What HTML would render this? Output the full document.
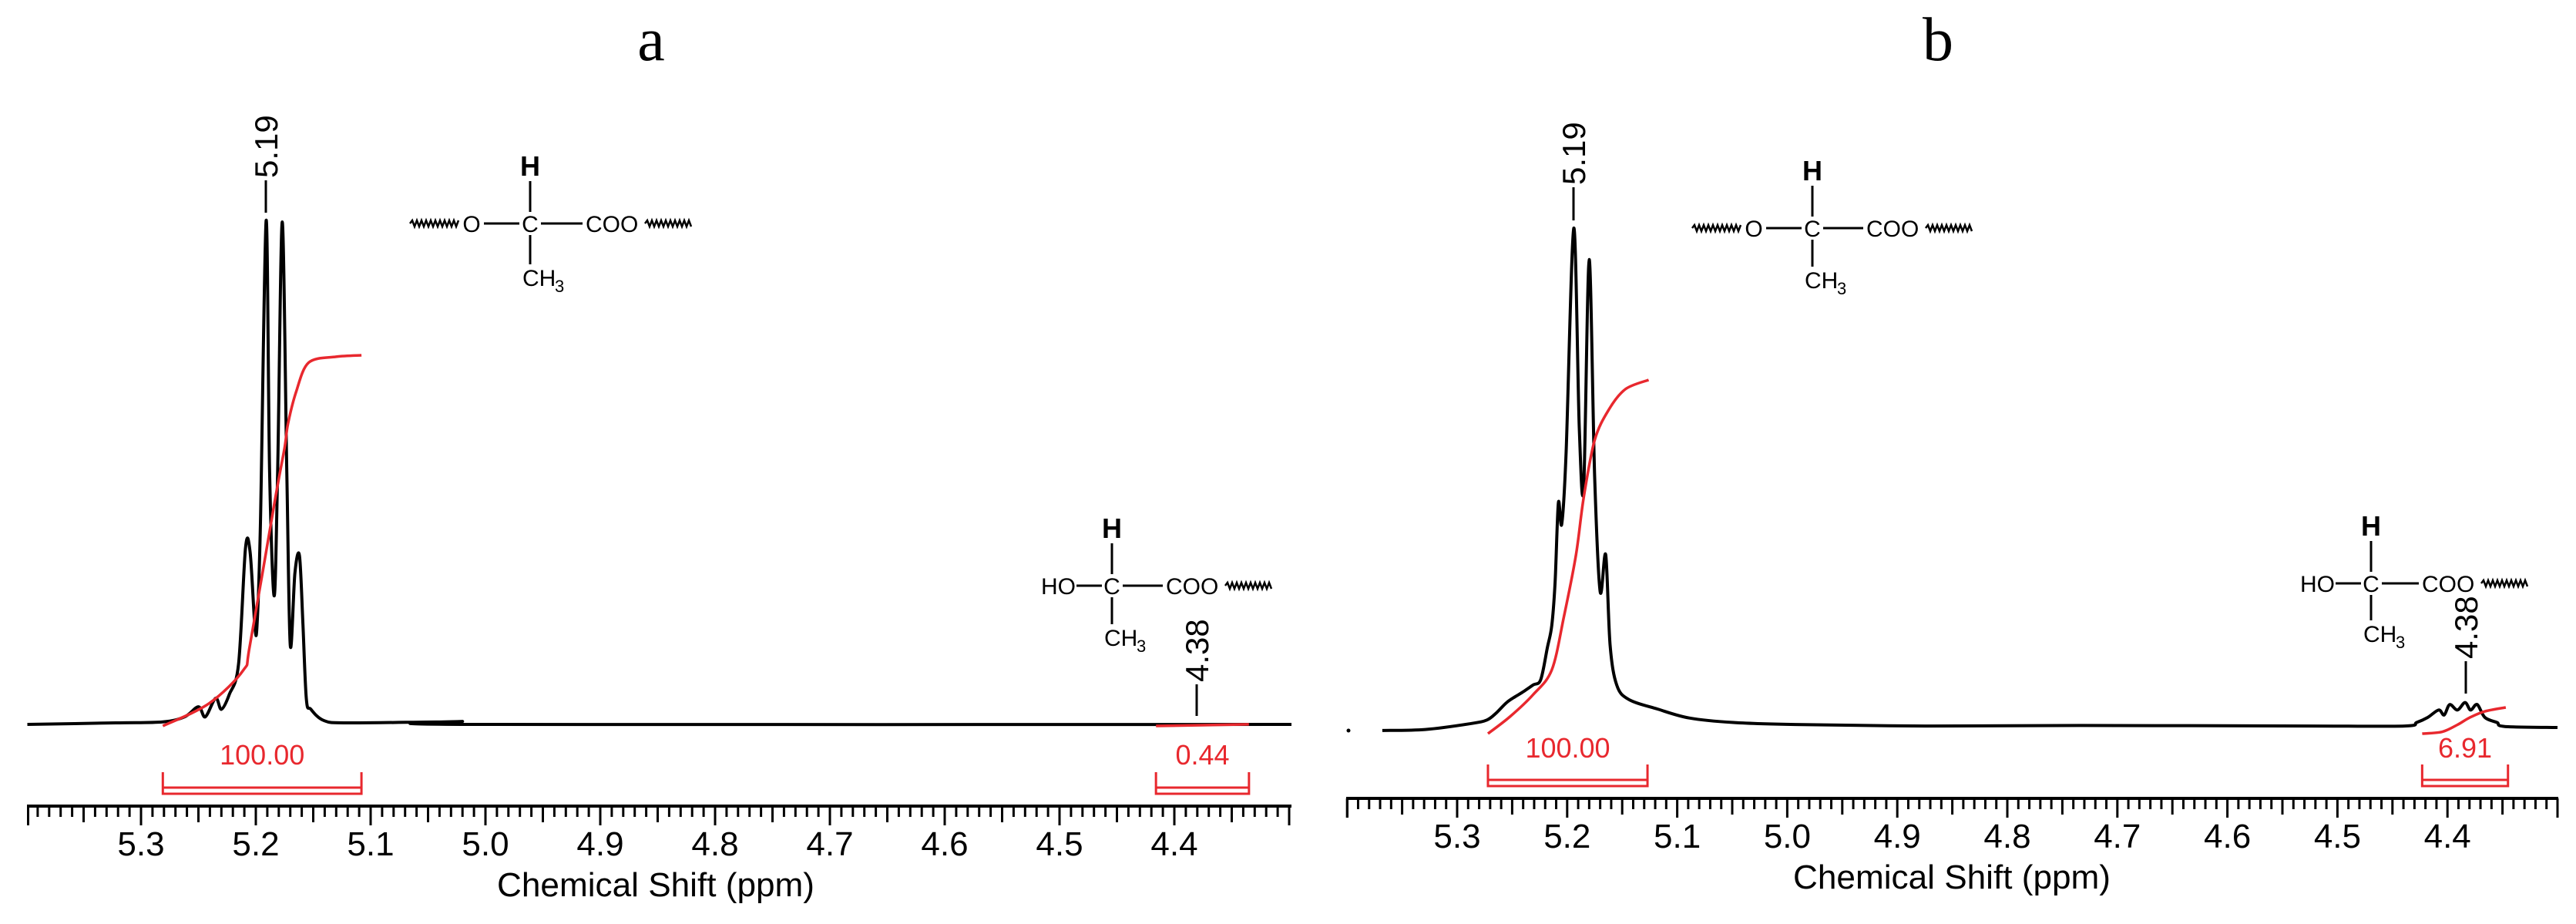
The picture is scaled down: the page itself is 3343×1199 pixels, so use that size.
<!DOCTYPE html>
<html><head><meta charset="utf-8">
<style>
html,body{margin:0;padding:0;background:#fff;}
svg{display:block;font-family:"Liberation Sans",Arial,sans-serif;}
</style></head>
<body>
<svg id="fig" width="3343" height="1199" viewBox="0 0 3343 1199" xmlns="http://www.w3.org/2000/svg">
<rect width="3343" height="1199" fill="#fff"/>
<g id="pa"></g>
<g id="pb"></g>
</svg>
<script>
// ---------- data ----------
const tickLabels = ["5.3","5.2","5.1","5.0","4.9","4.8","4.7","4.6","4.5","4.4"];
// panel a spectrum (ppm, relative intensity %)
const specA_ppm = [5.399,5.322,5.281,5.262,5.250,5.244,5.235,5.230,5.223,5.215,5.209,5.205,5.201,5.199,5.196,5.191,5.188,5.184,5.181,5.177,5.173,5.170,5.166,5.162,5.159,5.156,5.152,5.141,5.121,5.034,5.027,5.020,5.013,4.298];
const specA_int = [0,0.3,0.5,1.5,3.5,1.5,5.2,3,6,12,35,34.3,20,19.5,40,100,50,25.5,50,99.7,50,15.7,30,33.5,20,5,3,0.8,0.3,0.5,0.2,0.6,0,0];
const integA_ppm = [5.281,5.241,5.211,5.205,5.183,5.175,5.172,5.165,5.154,5.130,5.108];
const integA_val = [0,6,15,22,61.5,75,81.5,90,98,99.6,100];
const integA2_ppm = [4.416,4.335];
const integA2_val = [0,0.44];
// panel b spectrum
const specB_ppm = [5.368,5.329,5.287,5.273,5.265,5.255,5.247,5.241,5.231,5.224,5.218,5.214,5.211,5.208,5.205,5.201,5.194,5.189,5.185,5.180,5.175,5.170,5.165,5.161,5.155,5.144,5.118,5.089,5.049,4.993,4.874,4.733,4.523,4.439,4.428,4.418,4.408,4.403,4.398,4.391,4.384,4.379,4.373,4.366,4.355,4.348,4.300];
const specB_int = [-0.6,-0.4,0.8,1.5,2.8,5,6.2,7,8.5,9.6,16,20.4,29,45,40.7,55,100,60,48,93.7,50,27.2,34.6,16.5,8.5,5.6,3.7,1.9,1,0.6,0.3,0.4,0.3,0.3,1,2,3.5,2.5,4.6,3.5,5,3.5,4.6,2,1,0.2,0];
const integB_ppm = [5.272,5.252,5.231,5.214,5.203,5.192,5.185,5.175,5.162,5.147,5.126];
const integB_val = [0,4.8,11,18,33,50.5,66.7,83,91.7,97.4,100];
const integB2_ppm = [4.423,4.405,4.391,4.380,4.366,4.347];
const integB2_val = [0,0.5,2.5,4.5,6.3,7.4];
const bracketsA = [[5.281,5.108,"100.00"],[4.416,4.335,"0.44"]];
const bracketsB = [[5.272,5.127,"100.00"],[4.423,4.345,"6.91"]];

const NS="http://www.w3.org/2000/svg";
function mk(parent,tag,attrs,text){
  const e=document.createElementNS(NS,tag);
  for(const k in attrs) e.setAttribute(k,attrs[k]);
  if(text!==undefined) e.textContent=text;
  parent.appendChild(e); return e;
}
function smooth(pts){
  let d='M'+pts[0][0].toFixed(1)+' '+pts[0][1].toFixed(1);
  for(let i=0;i<pts.length-1;i++){
    const p0=pts[Math.max(0,i-1)],p1=pts[i],p2=pts[i+1],p3=pts[Math.min(pts.length-1,i+2)];
    const t=0.16;
    const c1=[p1[0]+(p2[0]-p0[0])*t,p1[1]+(p2[1]-p0[1])*t];
    const c2=[p2[0]-(p3[0]-p1[0])*t,p2[1]-(p3[1]-p1[1])*t];
    d+='C'+c1[0].toFixed(1)+' '+c1[1].toFixed(1)+' '+c2[0].toFixed(1)+' '+c2[1].toFixed(1)+' '+p2[0].toFixed(1)+' '+p2[1].toFixed(1);
  }
  return d;
}

function panel(g,cfg){
  const X = p => cfg.x53 + (5.3-p)*cfg.pxPerPpm;
  const Y = v => cfg.base - v*cfg.yScale;
  const YI = v => cfg.ibase - v*cfg.iScale;
  const t=mk(g,'text',{x:cfg.titleX,y:78,'font-family':'"Liberation Serif",serif','font-size':80,'text-anchor':'middle',fill:'#000'},cfg.title);
  
  
  const ax=mk(g,'g',{});
  
  
  mk(ax,'line',{x1:cfg.axL,x2:cfg.axR,y1:cfg.axY,y2:cfg.axY,stroke:'#000','stroke-width':4});
  const pL=5.3+(cfg.x53-cfg.axL)/cfg.pxPerPpm, pR=5.3-(cfg.axR-cfg.x53)/cfg.pxPerPpm;
  for(let i=Math.ceil(pR*100-1e-6);i<=Math.floor(pL*100+1e-6);i++){
    const x=X(i/100);
    let len=14; if(i%10===0) len=25; else if(i%5===0) len=21;
    mk(ax,'line',{x1:x,x2:x,y1:cfg.axY,y2:cfg.axY+len,stroke:'#000','stroke-width':3});
  }
  mk(ax,'line',{x1:cfg.axL+1.5,x2:cfg.axL+1.5,y1:cfg.axY,y2:cfg.axY+25,stroke:'#000','stroke-width':3});
  tickLabels.forEach(s=>{
    const tl=mk(ax,'text',{x:X(parseFloat(s)),y:cfg.axY+64,'font-size':44,'text-anchor':'middle',fill:'#000'},s);
    
    
  });
  const xl=mk(ax,'text',{x:cfg.labX,y:cfg.axY+117,'font-size':44,'text-anchor':'middle',fill:'#000',textLength:412,lengthAdjust:'spacingAndGlyphs'},'Chemical Shift (ppm)');
  
  
  const spts=cfg.sp.map((p,i)=>[X(p),Y(cfg.si[i])]);
  const sp=mk(g,'path',{d:smooth(spts),fill:'none',stroke:'#000','stroke-width':4,'stroke-linejoin':'round'});
  
  
  if(cfg.dot){const dt=mk(g,'circle',{cx:cfg.dot[0],cy:cfg.dot[1],r:2.5,fill:'#000'});
    
    }
  [[cfg.ip,cfg.iv],[cfg.ip2,cfg.iv2]].forEach(([pp,vv])=>{
    const ipts=pp.map((p,i)=>[X(p),YI(vv[i])]);
    const ic=mk(g,'path',{d:smooth(ipts),fill:'none',stroke:'#e8282e','stroke-width':3.5,'stroke-linejoin':'round'});
    
    
  });
  cfg.br.forEach(b=>{
    const x1=X(b[0]),x2=X(b[1]),yb=cfg.brY;
    const bg=mk(g,'g',{});
    
    
    mk(bg,'path',{d:`M${x1} ${yb-28}V${yb}H${x2}V${yb-28}`,fill:'none',stroke:'#e8282e','stroke-width':3});
    mk(bg,'line',{x1:x1,x2:x2,y1:yb-8,y2:yb-8,stroke:'#e8282e','stroke-width':3});
    const lb=mk(bg,'text',{x:(x1+x2)/2,y:cfg.brLabY,'font-size':36,'text-anchor':'middle',fill:'#e8282e'},b[2]);
    
    
  });
  cfg.pk.forEach(k=>{
    const pg=mk(g,'g',{});
    
    
    mk(pg,'line',{x1:k.x,x2:k.x,y1:k.l1,y2:k.l2,stroke:'#000','stroke-width':3});
    mk(pg,'text',{x:0,y:0,'font-size':42,fill:'#000',transform:`translate(${k.x+15},${k.l1-3}) rotate(-90)`},k.t);
  });
  cfg.st.forEach(s=>structure(g,s));
}

function zig(g,x1,x2,y){
  let d='M'+x1+' '+y; let up=true;
  for(let x=x1+3;x<=x2;x+=3){d+='L'+x+' '+(y+(up?-4:4));up=!up;}
  mk(g,'path',{d:d,fill:'none',stroke:'#000','stroke-width':2.5});
}
function structure(g,s){
  const sg=mk(g,'g',{});
  
  
  const cx=s.x, cy=s.y, fs=30;
  mk(sg,'text',{x:cx,y:cy+11,'font-size':fs,'text-anchor':'middle'},'C');
  mk(sg,'text',{x:cx,y:cy-62,'font-size':36,'font-weight':'bold','text-anchor':'middle'},'H');
  mk(sg,'line',{x1:cx,x2:cx,y1:cy-55,y2:cy-15,stroke:'#000','stroke-width':3});
  mk(sg,'line',{x1:cx,x2:cx,y1:cy+15,y2:cy+s.dn,stroke:'#000','stroke-width':3});
  mk(sg,'text',{x:cx-10,y:cy+s.dn+28,'font-size':fs},'CH');
  mk(sg,'text',{x:cx+32,y:cy+s.dn+36,'font-size':22},'3');
  mk(sg,'line',{x1:cx+14,x2:cx+s.coo-4,y1:cy,y2:cy,stroke:'#000','stroke-width':3});
  mk(sg,'text',{x:cx+s.coo,y:cy+11,'font-size':fs},'COO');
  zig(sg,cx+s.coo+77,cx+s.coo+138,cy);
  if(s.ho){
    mk(sg,'text',{x:cx-47,y:cy+11,'font-size':fs,'text-anchor':'end'},'HO');
    mk(sg,'line',{x1:cx-46,x2:cx-13,y1:cy,y2:cy,stroke:'#000','stroke-width':3});
  } else {
    mk(sg,'text',{x:cx-76,y:cy+11,'font-size':fs,'text-anchor':'middle'},'O');
    mk(sg,'line',{x1:cx-60,x2:cx-14,y1:cy,y2:cy,stroke:'#000','stroke-width':3});
    zig(sg,cx-156,cx-92,cy);
  }
}

panel(document.getElementById('pa'),{
  title:'a',titleX:845,x53:183,pxPerPpm:1490,axL:35,axR:1676,axY:1046,labX:851,
  base:940,yScale:6.54,ibase:942,iScale:4.81,
  sp:specA_ppm,si:specA_int,ip:integA_ppm,iv:integA_val,ip2:integA2_ppm,iv2:integA2_val,
  br:bracketsA,brY:1030,brLabY:992,
  pk:[{x:345,l1:234,l2:276,t:'5.19'},{x:1553,l1:888,l2:929,t:'4.38'}],
  st:[{x:688,y:290,coo:72,dn:53},{x:1443,y:760,coo:70,dn:50,ho:true}]
});
panel(document.getElementById('pb'),{
  title:'b',titleX:2515,x53:1891,pxPerPpm:1428,axL:1747,axR:3320,axY:1036,labX:2533,
  base:944,yScale:6.48,ibase:952,iScale:4.59,
  sp:specB_ppm,si:specB_int,ip:integB_ppm,iv:integB_val,ip2:integB2_ppm,iv2:integB2_val,
  br:bracketsB,brY:1020,brLabY:983,dot:[1750,948],
  pk:[{x:2042,l1:243,l2:286,t:'5.19'},{x:3200,l1:858,l2:900,t:'4.38'}],
  st:[{x:2352,y:296,coo:70,dn:50},{x:3077,y:757,coo:66,dn:48,ho:true}]
});
</script>
</body></html>
